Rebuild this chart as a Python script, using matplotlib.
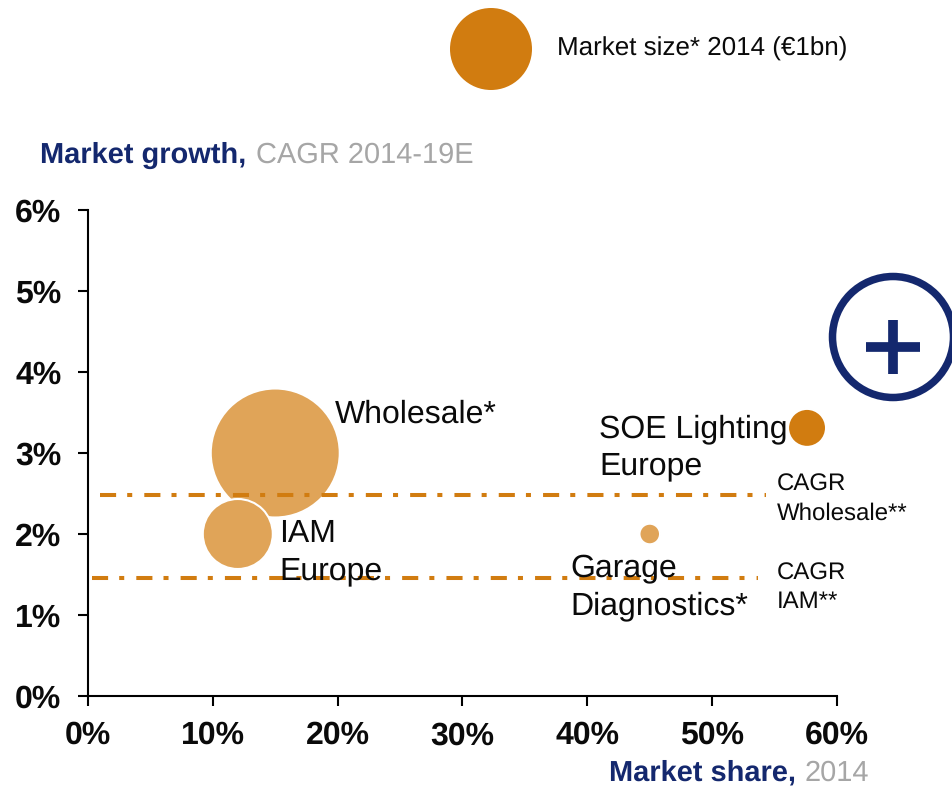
import matplotlib
matplotlib.use("Agg")
import matplotlib.pyplot as plt
from matplotlib.patches import Circle

plt.rcParams['font.family'] = ['Liberation Sans', 'DejaVu Sans']
plt.rcParams['text.hinting'] = 'no_hinting'
plt.rcParams['text.hinting_factor'] = 1

W, H = 953, 786
navy = "#14286e"
grey = "#a6a6a6"
orange = "#d17c10"
light = "#e0a458"
black = "#0a0a0a"

# data
share = [15, 12, 57.6, 45]
growth = [3.0, 2.0, 3.31, 2.0]
radius_px = [64.5, 35, 19, 10.3]
colors = [light, light, orange, light]
cagr_values = [2.486, 1.457]
cagr_start = [0.96, 0.32]
cagr_end = [54.3, 53.67]
xticks = [0, 10, 20, 30, 40, 50, 60]
yticks = [0, 1, 2, 3, 4, 5, 6]

# label lines with pixel baselines
bubble_labels = [("Wholesale*", 335, 423), ("IAM", 279, 541.5), ("Europe", 279, 579),
                 ("SOE Lighting", 599, 437), ("Europe", 599, 474.5),
                 ("Garage", 570, 576), ("Diagnostics*", 570, 614)]
cagr_labels = [("CAGR", 777, 491), ("Wholesale**", 777, 520), ("CAGR", 777, 580), ("IAM**", 777, 608)]

fig = plt.figure(figsize=(W / 100, H / 100), dpi=100)
ax = fig.add_axes([88 / W, 1 - 696 / H, (837 - 88) / W, (696 - 210) / H])
ax.set_xlim(0, 60)
ax.set_ylim(0, 6)
ax.patch.set_alpha(0)
for s in ["top", "right"]:
    ax.spines[s].set_visible(False)
for s in ["left", "bottom"]:
    ax.spines[s].set_linewidth(1.5)
ax.set_xticks(xticks)
ax.set_yticks(yticks)
ax.set_xticklabels([f"{x}%" for x in xticks], fontsize=22.7, fontweight="bold", color=black)
ax.set_yticklabels([f"{y}%" for y in yticks], fontsize=22.7, fontweight="bold", color=black)
ax.tick_params(axis="x", direction="out", length=7, width=1.5, pad=11)
ax.tick_params(axis="y", direction="out", length=7, width=1.5, pad=12.2)

# overlay in pixel coordinates for text and round markers
ov = fig.add_axes([0, 0, 1, 1])
ov.set_xlim(0, W)
ov.set_ylim(H, 0)
ov.axis("off")
ov.patch.set_alpha(0)


def to_px(x, y):
    return 88 + x / 60 * (837 - 88), 696 - y / 6 * (696 - 210)


for x, y, r, c in zip(share, growth, radius_px, colors):
    px, py = to_px(x, y)
    ov.add_patch(Circle((px, py), r, facecolor=c, edgecolor="white", linewidth=1.5, zorder=2))

ax.set_zorder(3)
for y, x0, x1 in zip(cagr_values, cagr_start, cagr_end):
    ax.plot([x0, x1], [y, y], color=orange, linewidth=2.9,
            linestyle=(0, (4, 2.75, 1.25, 3)), zorder=3, clip_on=False)

# text goes on its own top axes so the dashed lines stay under it
tx = fig.add_axes([0, 0, 1, 1])
tx.set_xlim(0, W)
tx.set_ylim(H, 0)
tx.axis("off")
tx.patch.set_alpha(0)
tx.set_zorder(4)

for name, lx, ly in bubble_labels:
    tx.text(lx, ly, name, fontsize=23.1, color=black, va="baseline", ha="left")

for name, lx, ly in cagr_labels:
    tx.text(lx, ly, name, fontsize=17.6, color=black, va="baseline", ha="left")

# legend bubble
tx.add_patch(Circle((491, 49), 41, facecolor=orange, edgecolor="none"))
tx.text(557, 56, "Market size* 2014 (€1bn)", fontsize=19, color=black)

# axis titles
tx.text(40, 163, "Market growth,", fontsize=21, fontweight="bold", color=navy)
tx.text(256, 163, "CAGR 2014-19E", fontsize=21, color=grey)
tx.text(609, 781, "Market share,", fontsize=21, fontweight="bold", color=navy)
tx.text(805, 781, "2014", fontsize=21, color=grey)

# plus sign badge
tx.add_patch(Circle((893, 337), 60.5, facecolor="white", edgecolor=navy, linewidth=5.4, zorder=4, clip_on=False))
tx.plot([866, 920], [347, 347], color=navy, linewidth=7, solid_capstyle="butt", zorder=5)
tx.plot([893, 893], [320, 374], color=navy, linewidth=7, solid_capstyle="butt", zorder=5)

fig.savefig("out.png", dpi=100, facecolor="white")
